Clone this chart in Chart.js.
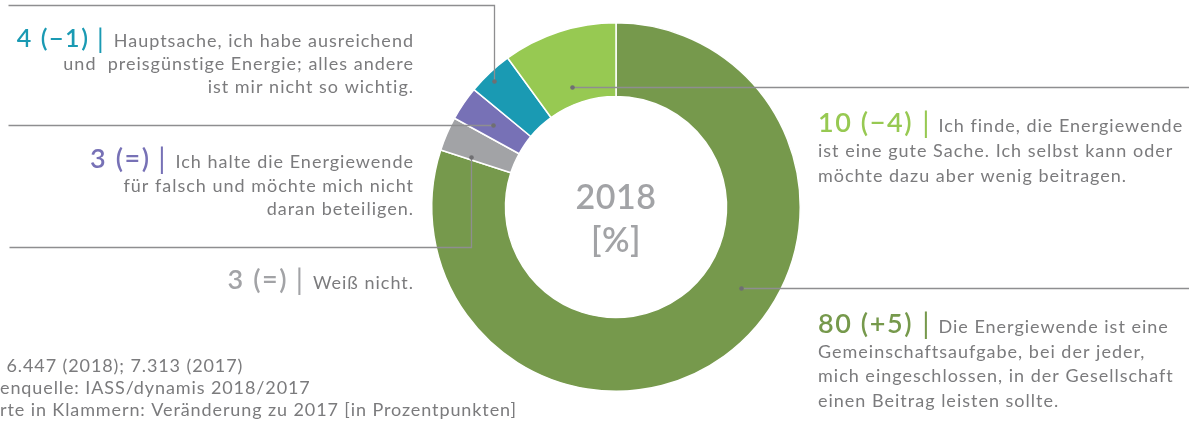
<!DOCTYPE html>
<html>
<head>
<meta charset="utf-8">
<script src="https://cdn.jsdelivr.net/npm/chart.js@4"></script>
<style>
  html, body { margin: 0; padding: 0; background: #ffffff; }
  #wrap { width: 1189px; height: 423px; position: relative; }
  canvas { display: block; }
</style>
</head>
<body>
<div id="wrap"><canvas id="c" width="1189" height="423"></canvas></div>
<script>
// ---- data ----
const categories = [
  'Gemeinschaftsaufgabe',
  'Weiß nicht',
  'Falsch, nicht beteiligen',
  'Hauptsache Energie',
  'Gute Sache, wenig beitragen'
];
const values2018 = [80, 3, 3, 4, 10];
const changes = ['+5', '=', '=', '\u22121', '\u22124'];
const descriptions = [
  ['Die Energiewende ist eine', 'Gemeinschaftsaufgabe, bei der jeder,', 'mich eingeschlossen, in der Gesellschaft', 'einen Beitrag leisten sollte.'],
  ['Weiß nicht.'],
  ['Ich halte die Energiewende', 'für falsch und möchte mich nicht', 'daran beteiligen.'],
  ['Hauptsache, ich habe ausreichend', 'und  preisgünstige Energie; alles andere', 'ist mir nicht so wichtig.'],
  ['Ich finde, die Energiewende', 'ist eine gute Sache. Ich selbst kann oder', 'möchte dazu aber wenig beitragen.']
];
const centerLines = ['2018', '[%]'];
const footerLines = [' 6.447 (2018); 7.313 (2017)', 'enquelle: IASS/dynamis 2018/2017', 'rte in Klammern: Veränderung zu 2017 [in Prozentpunkten]'];

// ---- styles / layout ----
const segColors = ['#76994c', '#a2a3a6', '#7771b6', '#1a9ab3', '#97c952'];
const labelColors = ['#76994c', '#a2a3a6', '#7771b6', '#1a9ab3', '#97c952'];
const textGray = '#7b7b7d';
const lineGray = '#8e8e90';
const FONT = 'Lato, "Open Sans", sans-serif';

// anchor inside each arc: fraction of angle span, fraction of ring thickness
const anchors = [
  {fa: 0.427, fr: 0.52},
  {fa: 0.09, fr: 0.58},
  {fa: 0.45, fr: 0.50},
  {fa: 0.44, fr: 0.88},
  {fa: 0.44, fr: 0.24}
];
// leader routes from the anchor dot
const routes = [
  [{x: 1189}],
  [{y: 247}, {x: 9}],
  [{x: 8}],
  [{y: 5}, {x: 8}],
  [{x: 1189}]
];
// label blocks
const blocks = [
  {align: 'left', x: 818, y0: 333, lh: 24.5, head: 27},
  {align: 'right', x: 413, y0: 289, lh: 24, head: 27},
  {align: 'right', x: 413, y0: 168, lh: 23.5, head: 27},
  {align: 'right', x: 413, y0: 47, lh: 23, head: 25},
  {align: 'left', x: 818, y0: 132, lh: 25, head: 27}
];

const annotations = {
  id: 'annotations',
  afterDraw(chart) {
    const ctx = chart.ctx;
    const meta = chart.getDatasetMeta(0);
    ctx.save();
    // leader lines and dots
    meta.data.forEach((arc, i) => {
      const p = arc.getProps(['x', 'y', 'startAngle', 'endAngle', 'innerRadius', 'outerRadius'], true);
      const a = p.startAngle + (p.endAngle - p.startAngle) * anchors[i].fa;
      const r = p.innerRadius + (p.outerRadius - p.innerRadius) * anchors[i].fr;
      const dx = Math.round(p.x + r * Math.cos(a)) + 0.5;
      const dy = Math.round(p.y + r * Math.sin(a)) + 0.5;
      ctx.strokeStyle = lineGray;
      ctx.lineWidth = 1.3;
      ctx.beginPath();
      ctx.moveTo(dx, dy);
      let cx = dx, cy = dy;
      routes[i].forEach(s => {
        if (s.x !== undefined) cx = s.x + 0.5;
        if (s.y !== undefined) cy = s.y + 0.5;
        ctx.lineTo(cx, cy);
      });
      ctx.stroke();
      ctx.fillStyle = '#6f6f72';
      ctx.beginPath();
      ctx.arc(dx, dy, 2.3, 0, Math.PI * 2);
      ctx.fill();
    });

    // label blocks
    ctx.textBaseline = 'alphabetic';
    const descFont = '18px ' + FONT;
    const descLS = '1px';
    const headLS = '1.6px';
    values2018.forEach((v, i) => {
      const b = blocks[i];
      const head = v + ' (' + changes[i] + ')';
      const headFont = '600 ' + b.head + 'px ' + FONT;
      const barFont = '400 ' + (b.head + 2) + 'px ' + FONT;
      const lines = descriptions[i];
      ctx.letterSpacing = descLS;
      ctx.font = descFont;
      const w0 = ctx.measureText(lines[0]).width;
      ctx.letterSpacing = headLS;
      ctx.font = headFont;
      const hw = ctx.measureText(head).width;
      ctx.letterSpacing = '0px';
      ctx.font = barFont;
      const bw = ctx.measureText('|').width;
      if (b.align === 'left') {
        let x = b.x;
        ctx.textAlign = 'left';
        ctx.letterSpacing = headLS;
        ctx.font = headFont; ctx.fillStyle = labelColors[i];
        ctx.fillText(head, x, b.y0);
        x += hw + 9;
        ctx.letterSpacing = '0px';
        ctx.font = barFont;
        ctx.fillText('|', x, b.y0 + 1);
        x += bw + 9;
        ctx.letterSpacing = descLS;
        ctx.font = descFont; ctx.fillStyle = textGray;
        ctx.fillText(lines[0], x, b.y0);
        for (let k = 1; k < lines.length; k++) ctx.fillText(lines[k], b.x, b.y0 + k * b.lh);
      } else {
        ctx.textAlign = 'right';
        ctx.letterSpacing = descLS;
        ctx.font = descFont; ctx.fillStyle = textGray;
        lines.forEach((t, k) => ctx.fillText(t, b.x + 1, b.y0 + k * b.lh));
        let x = b.x - w0 - 9;
        ctx.letterSpacing = '0px';
        ctx.font = barFont; ctx.fillStyle = labelColors[i];
        ctx.fillText('|', x, b.y0 + 1);
        x -= bw + 9;
        ctx.letterSpacing = headLS;
        ctx.font = headFont;
        ctx.fillText(head, x + 1.6, b.y0);
      }
    });

    // center text
    const c = meta.data[0];
    ctx.textAlign = 'center';
    ctx.letterSpacing = '0.5px';
    ctx.fillStyle = '#a2a3a6';
    ctx.font = '600 34px ' + FONT;
    ctx.fillText(centerLines[0], c.x, c.y + 2);
    ctx.fillText(centerLines[1], c.x, c.y + 45);

    // footer
    ctx.textAlign = 'left';
    ctx.fillStyle = textGray;
    ctx.letterSpacing = '0.9px';
    ctx.font = '18px ' + FONT;
    footerLines.forEach((t, k) => ctx.fillText(t, k === 0 ? 1 : 0, 372 + k * 22));
    ctx.restore();
  }
};

new Chart(document.getElementById('c'), {
  type: 'doughnut',
  data: {
    labels: categories,
    datasets: [{
      data: values2018,
      backgroundColor: segColors,
      borderColor: '#ffffff',
      borderWidth: 1.5,
      hoverOffset: 0
    }]
  },
  options: {
    responsive: false,
    animation: false,
    cutout: '60%',
    layout: { padding: { left: 431, right: 388, top: 22, bottom: 31 } },
    plugins: { legend: { display: false }, tooltip: { enabled: false } },
    events: []
  },
  plugins: [annotations]
});
</script>
</body>
</html>
